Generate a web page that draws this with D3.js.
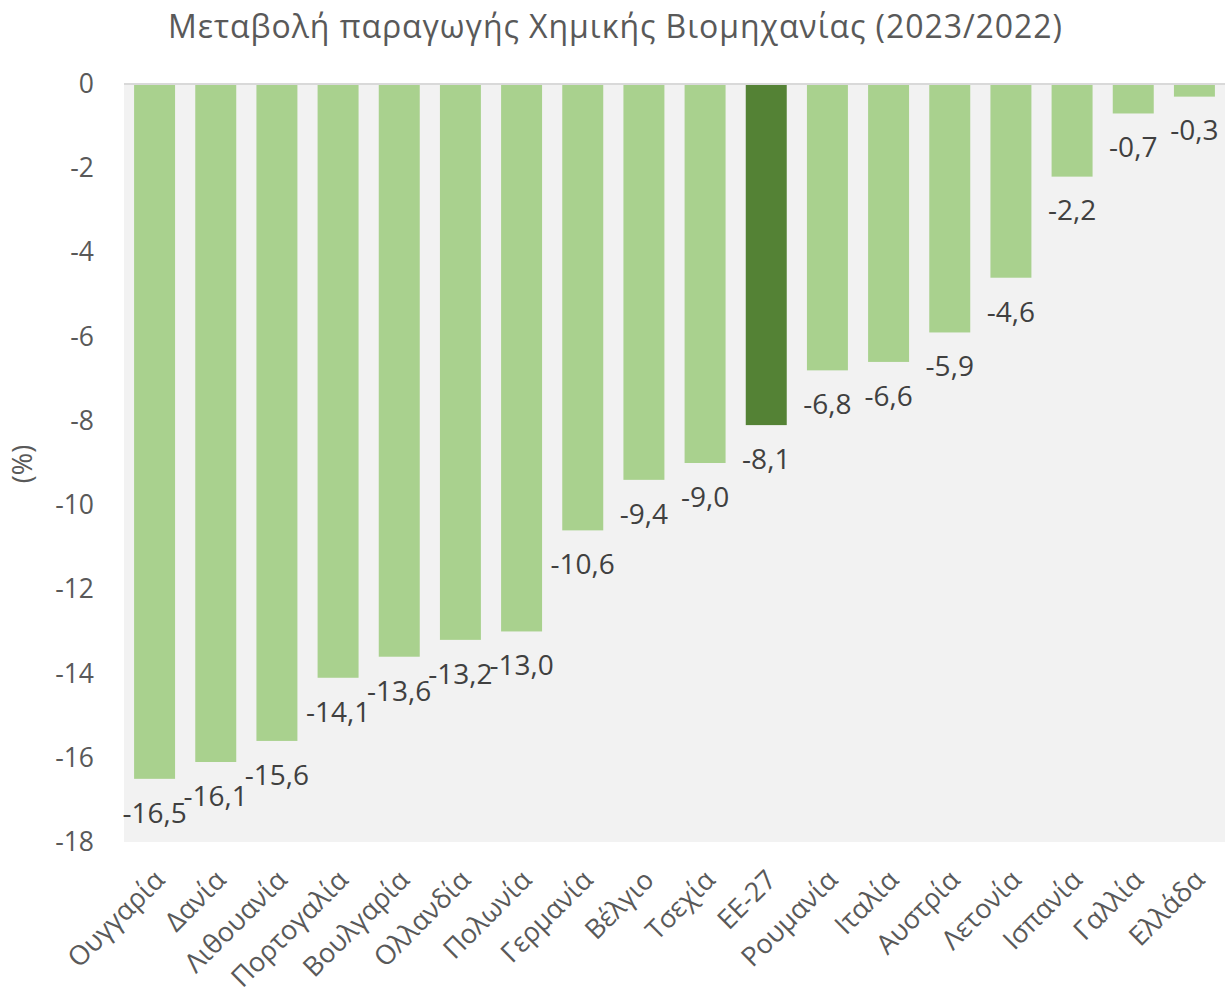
<!DOCTYPE html>
<html>
<head>
<meta charset="utf-8">
<script src="https://cdn.jsdelivr.net/npm/d3@7"></script>
<style>
  body { margin: 0; background: #fff; }
  text { font-family: "Open Sans", sans-serif; }
</style>
</head>
<body>
<svg id="chart" width="1225" height="993"></svg>
<script>
// data
var countries = ["Ουγγαρία", "Δανία", "Λιθουανία", "Πορτογαλία", "Βουλγαρία",
  "Ολλανδία", "Πολωνία", "Γερμανία", "Βέλγιο", "Τσεχία", "ΕΕ-27", "Ρουμανία",
  "Ιταλία", "Αυστρία", "Λετονία", "Ισπανία", "Γαλλία", "Ελλάδα"];
var changes = [-16.5, -16.1, -15.6, -14.1, -13.6, -13.2, -13.0, -10.6, -9.4,
  -9.0, -8.1, -6.8, -6.6, -5.9, -4.6, -2.2, -0.7, -0.3];
var yTicks = [0, -2, -4, -6, -8, -10, -12, -14, -16, -18];
var highlight = "ΕΕ-27";

var title = "Μεταβολή παραγωγής Χημικής Βιομηχανίας (2023/2022)";

var svg = d3.select("#chart");
var margin = { top: 84, right: 0, bottom: 151, left: 124 };
var W = 1225, H = 993;

var x = d3.scaleBand()
  .domain(countries)
  .range([margin.left, W - margin.right])
  .paddingInner(0.33)
  .paddingOuter(0.165);

var y = d3.scaleLinear()
  .domain([0, -18])
  .range([margin.top, H - margin.bottom]);

// plot background
svg.append("rect")
  .attr("x", margin.left)
  .attr("y", y(0))
  .attr("width", W - margin.right - margin.left)
  .attr("height", y(-18) - y(0))
  .attr("fill", "#f2f2f2");

// title
svg.append("text")
  .attr("x", 615)
  .attr("y", 38)
  .attr("text-anchor", "middle")
  .attr("font-size", 32)
  .attr("textLength", 894)
  .attr("fill", "#595959")
  .text(title);

// bars
svg.selectAll("rect.bar")
  .data(countries)
  .enter().append("rect")
    .attr("class", "bar")
    .attr("x", function(d) { return x(d); })
    .attr("y", y(0))
    .attr("width", x.bandwidth())
    .attr("height", function(d, i) { return y(changes[i]) - y(0); })
    .attr("fill", function(d) { return d == highlight ? "#548235" : "#a9d18e"; });

// zero line
svg.append("line")
  .attr("x1", margin.left).attr("x2", W - margin.right)
  .attr("y1", y(0)).attr("y2", y(0))
  .attr("stroke", "#d9d9d9")
  .attr("stroke-width", 2);

// y axis (labels only)
var yAxis = d3.axisLeft(y)
  .tickValues(yTicks)
  .tickSize(0)
  .tickPadding(0)
  .tickFormat(d3.format("d"));

var ya = svg.append("g")
  .attr("transform", "translate(94,0)")
  .call(yAxis);
ya.select(".domain").remove();
ya.selectAll("text")
  .attr("font-size", 26.5)
  .attr("fill", "#595959")
  .style("font-family", "'Open Sans', sans-serif")
  .text(function(d) { return d == 0 ? "0" : "-" + Math.abs(d); });

// axis title
svg.append("text")
  .attr("transform", "translate(32,464) rotate(-90)")
  .attr("text-anchor", "middle")
  .attr("font-size", 27)
  .attr("fill", "#595959")
  .text("(%)");

// data labels
var fmt = function(v) { return d3.format(".1f")(v).replace(".", ",").replace("−", "-"); };
svg.selectAll("text.val")
  .data(countries)
  .enter().append("text")
    .attr("class", "val")
    .attr("x", function(d) { return x(d) + x.bandwidth() / 2; })
    .attr("y", function(d, i) { return y(changes[i]) + 34; })
    .attr("dy", "0.35em")
    .attr("text-anchor", "middle")
    .attr("font-size", 28)
    .attr("fill", "#404040")
    .text(function(d, i) { return fmt(changes[i]); });

// category labels
svg.selectAll("text.cat")
  .data(countries)
  .enter().append("text")
    .attr("class", "cat")
    .attr("transform", function(d) {
      return "translate(" + (x(d) + x.bandwidth() / 2 + 5) + "," + (y(-18) + 33) + ") rotate(-45)";
    })
    .attr("text-anchor", "end")
    .attr("dy", "0.35em")
    .attr("font-size", 27)
    .attr("fill", "#595959")
    .text(function(d) { return d; });
</script>
</body>
</html>
